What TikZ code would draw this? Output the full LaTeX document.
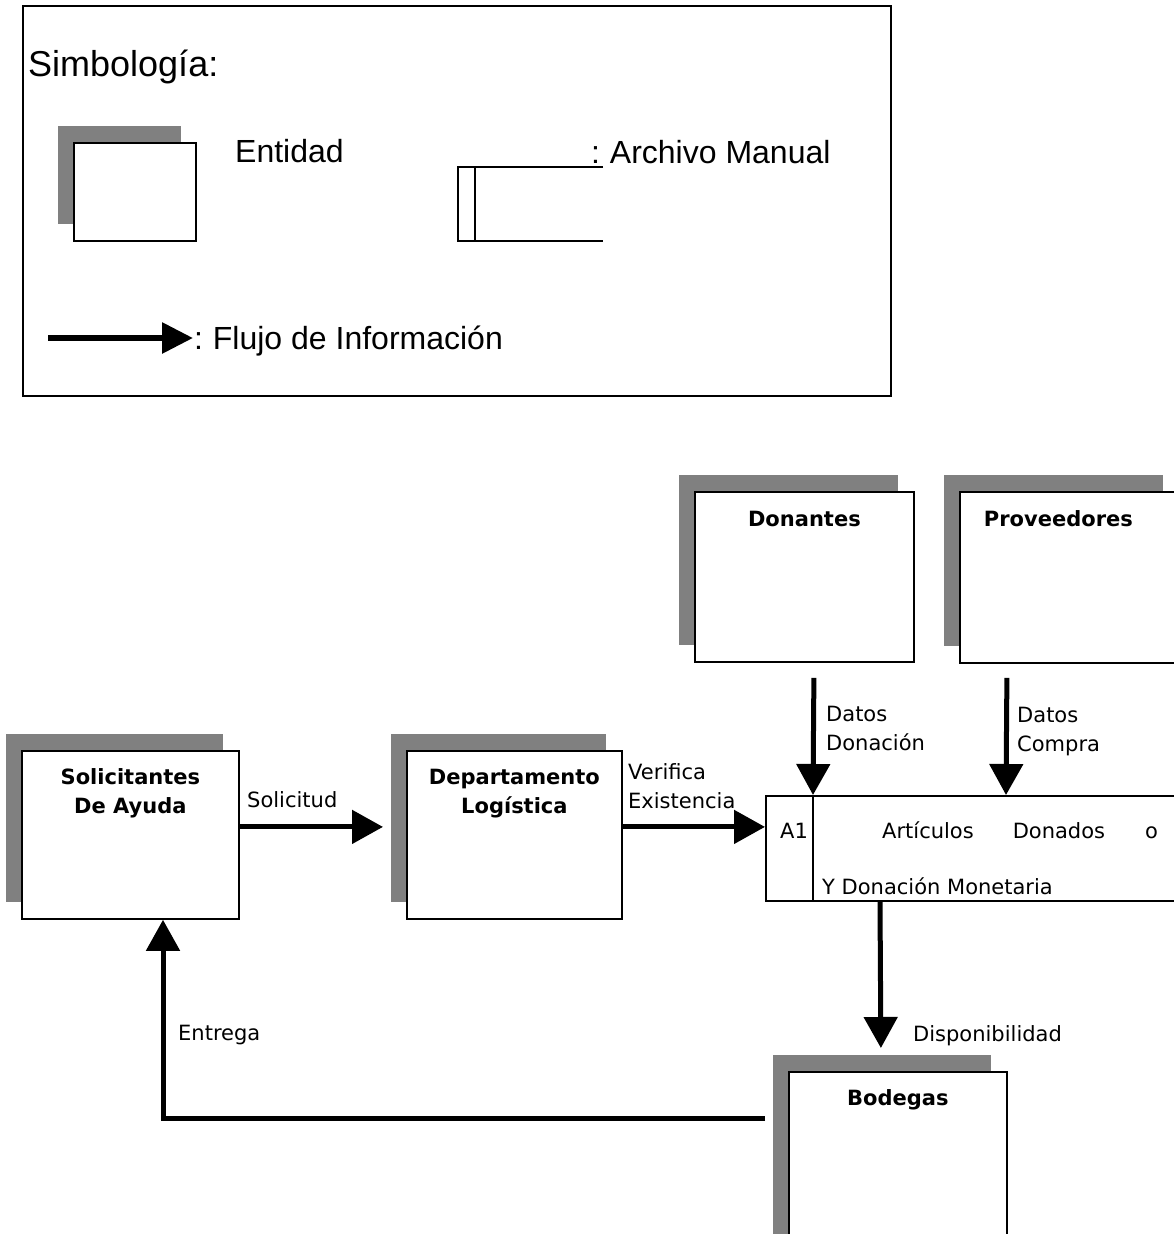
\documentclass[tikz,border=0pt]{standalone}
\usepackage{fontspec}
\setmainfont{DejaVu Sans}
\newfontfamily\legendfont{Liberation Sans}
\usetikzlibrary{arrows.meta,shadows,calc}

\begin{document}
\begin{tikzpicture}[x=1pt,y=-1pt,
  boxshadow/.style={general shadow={fill=black!50, opacity=1,
      shadow xshift=-16pt, shadow yshift=17pt}},
  entity/.style={draw, line width=1.8pt, fill=white, inner sep=0pt,
      anchor=north west, boxshadow},
  store/.style={draw, line width=1.8pt, fill=white, inner sep=0pt,
      anchor=north west},
  flow/.style={line width=5pt, -{Triangle[length=31pt,width=33pt]}},
  legflow/.style={line width=6pt, -{Triangle[length=31pt,width=30pt]}},
  title/.style={anchor=base, inner sep=0pt, align=center,
      font=\fontsize{21pt}{29pt}\selectfont\bfseries},
  lbl/.style={anchor=base west, inner sep=0pt, align=left,
      font=\fontsize{21pt}{29pt}\selectfont},
  legtext/.style={anchor=base west, inner sep=0pt,
      font=\legendfont\fontsize{32pt}{38pt}\selectfont}]

\path[use as bounding box, clip] (0,0) rectangle (1174,1234);
\fill[white] (0,0) rectangle (1174,1234);

% ---------- legend ----------
\node[draw, line width=1.5pt, inner sep=0pt, anchor=north west,
      minimum width=868pt, minimum height=390pt] (legend) at (22,5) {};
\node[legtext, font=\legendfont\fontsize{36pt}{40pt}\selectfont] (simb) at (28,76) {Simbología:};

\node[entity, line width=1.5pt, minimum width=122pt, minimum height=98pt,
      general shadow={fill=black!50, opacity=1, shadow xshift=-15pt, shadow yshift=17pt}]
      (legent) at (73,142) {};
\node[legtext] (legentt) at (235,162) {Entidad};

\coordinate (arA) at (603,167);
\coordinate (arB) at (458,241);
\coordinate (arC) at (603,241);
\draw[line width=1.5pt] (arA) -| (arB) -- (arC);
\draw[line width=1.5pt] ($(arB)+(17,0)$) -- ($(arB)+(17,-74)$);
\node[legtext] (legart) at (591,163) {:\hspace{-2pt} Archivo Manual};

\coordinate (lf1) at (48,338);
\coordinate (lf2) at (193,338);
\draw[legflow] (lf1) -- (lf2);
\node[legtext] (legflo) at (194,349) {:\hspace{-2pt} Flujo de Información};

% ---------- entities ----------
\node[entity, minimum width=219pt, minimum height=170pt] (don) at (694,491) {};
\node[title] (donT) at ($(don.north)+(0,35)$) {Donantes};

\node[entity, minimum width=219pt, minimum height=171pt] (prov) at (959,491) {};
\node[title] (provT) at ($(prov.north)+(-11,35)$) {Proveedores};

\node[entity, minimum width=217pt, minimum height=168pt] (sol) at (21,750) {};
\node[title] (solT) at ($(sol.north)+(0,63)$) {Solicitantes\\De Ayuda};

\node[entity, minimum width=215pt, minimum height=168pt] (dep) at (406,750) {};
\node[title] (depT) at ($(dep.north)+(0,63)$) {Departamento\\Logística};

\node[entity, minimum width=218pt, minimum height=185pt] (bod) at (788,1071) {};
\node[title] (bodT) at ($(bod.north)+(0,34)$) {Bodegas};

% ---------- manual file A1 ----------
\node[store, minimum width=430pt, minimum height=105pt] (arch) at (765,795) {};
\draw[line width=1.8pt] ($(arch.north west)+(48,0)$) -- ($(arch.south west)+(48,0)$);
\node[lbl] (archId) at (780,838) {A1};
\node[lbl] (archT1) at (882,838) {Artículos\hspace{39pt}Donados\hspace{40pt}o};
\node[lbl] (archT2) at (822,894) {Y Donación Monetaria};

% ---------- flows ----------
\draw[flow] ($(sol.east)+(0,-8)$) -- ($(dep.west)+(-23,-8)$);
\node[lbl] (lSol) at (247,807) {Solicitud};

\draw[flow] ($(dep.east)+(0,-8)$) -- ($(arch.west)+(0,-21.5)$);
\node[lbl] (lVer) at (628,808) {Verifica\\Existencia};

\draw[flow] ($(don.south)+(9.5,15)$) -- ($(arch.north west)+(48,0)$);
\node[lbl] (lDon) at (826,750) {Datos\\Donación};

\draw[flow] ($(prov.south)+(-62.5,14)$) -- ($(arch.north west)+(241,0)$);
\node[lbl] (lCom) at (1017,751) {Datos\\Compra};

\draw[flow] ($(arch.south west)+(115,0)$) -- ($(bod.north)+(-17,-23)$);
\node[lbl] (lDis) at (913,1041) {Disponibilidad};

\draw[flow] ($(bod.north west)+(-23,47)$) -| ($(sol.south west)+(142,0)$);
\node[lbl] (lEnt) at (178,1040) {Entrega};

\end{tikzpicture}
\end{document}
